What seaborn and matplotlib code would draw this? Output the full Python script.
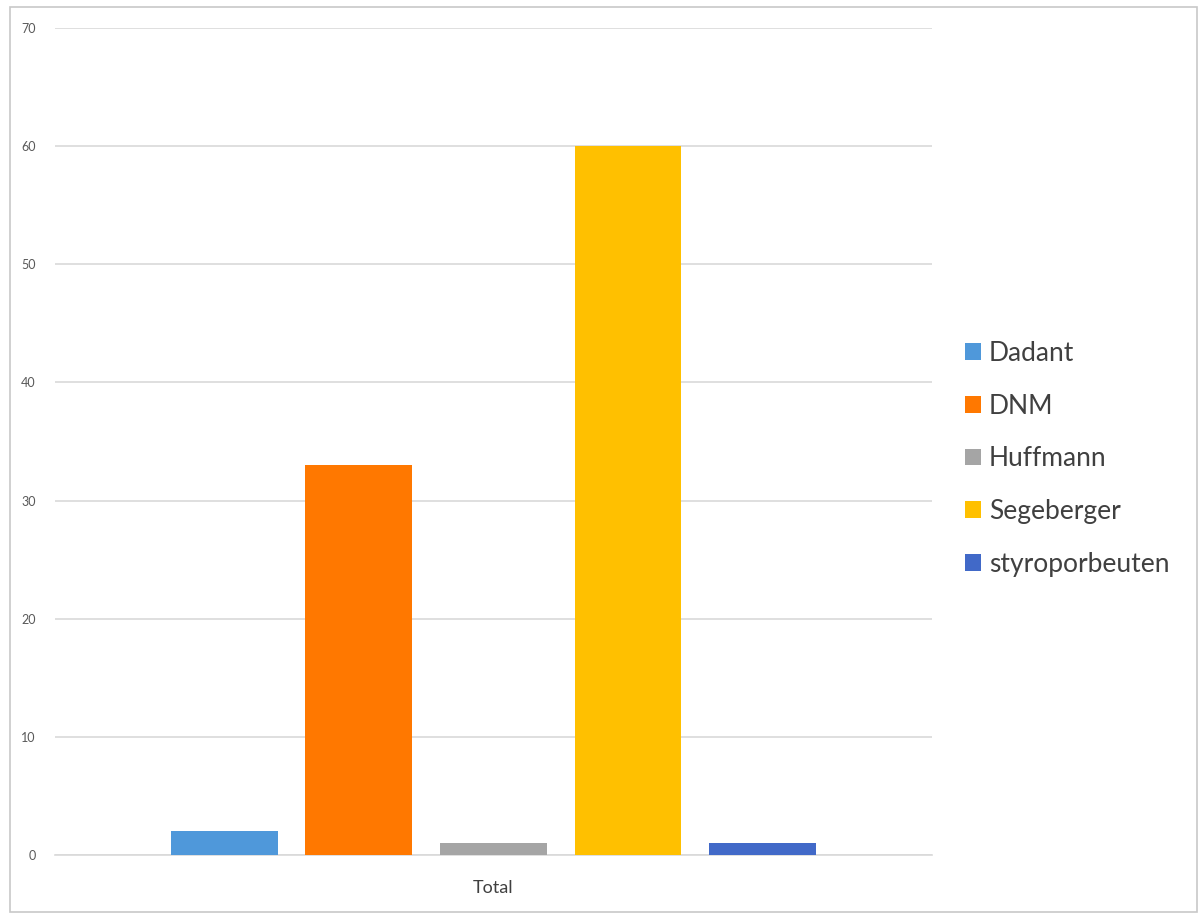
import pandas as pd
import matplotlib
matplotlib.use("Agg")
import matplotlib.pyplot as plt
import seaborn as sns
from matplotlib.patches import Rectangle

# data
categories = ["Total"]
series = ["Dadant", "DNM", "Huffmann", "Segeberger", "styroporbeuten"]
values = [2, 33, 1, 60, 1]
colors = ["#4F98DA", "#FF7800", "#A5A5A5", "#FFC000", "#4169C8"]
y_ticks = [0, 10, 20, 30, 40, 50, 60, 70]

df = pd.DataFrame({"category": categories * len(series), "series": series, "value": values})

sns.set_theme(style="white")
plt.rcParams['font.family'] = ['Lato', 'DejaVu Sans']

fig = plt.figure(figsize=(12.04, 9.15), dpi=100)
ax = fig.add_axes([0.0457, 0.0656, 0.7283, 0.9038])

sns.barplot(data=df, x="category", y="value", hue="series", hue_order=series,
            palette=colors, width=0.767, gap=0.205, saturation=1, ax=ax, zorder=3,
            linewidth=0)

ax.set_xlim(-0.5, 0.5)
ax.set_ylim(0, 70)
ax.set_yticks(y_ticks)
ax.set_yticklabels([str(t) for t in y_ticks], fontsize=9, color="#595959")
ax.tick_params(axis="y", length=0, pad=14)
ax.tick_params(axis="x", length=0, pad=18, labelsize=13, labelcolor="#404040")
ax.grid(axis="y", color="#D9D9D9", linewidth=1.2, zorder=0)
ax.set_xlabel("")
ax.set_ylabel("")
for s in ["top", "left", "right"]:
    ax.spines[s].set_visible(False)
ax.spines["bottom"].set_color("#D9D9D9")
ax.spines["bottom"].set_linewidth(1.2)

leg = ax.legend(loc="center left", bbox_to_anchor=(1.011, 0.479), frameon=False,
                fontsize=19, handlelength=0.6, handleheight=0.6, handletextpad=0.3,
                labelspacing=1.05)
for t in leg.get_texts():
    t.set_color("#404040")

# chart border
fig.patches.append(Rectangle((10 / 1204, 3 / 915), 1187 / 1204, 905 / 915,
                             transform=fig.transFigure, fill=False,
                             edgecolor="#C8C8C8", linewidth=1.2))

fig.savefig("out.png", dpi=100)
